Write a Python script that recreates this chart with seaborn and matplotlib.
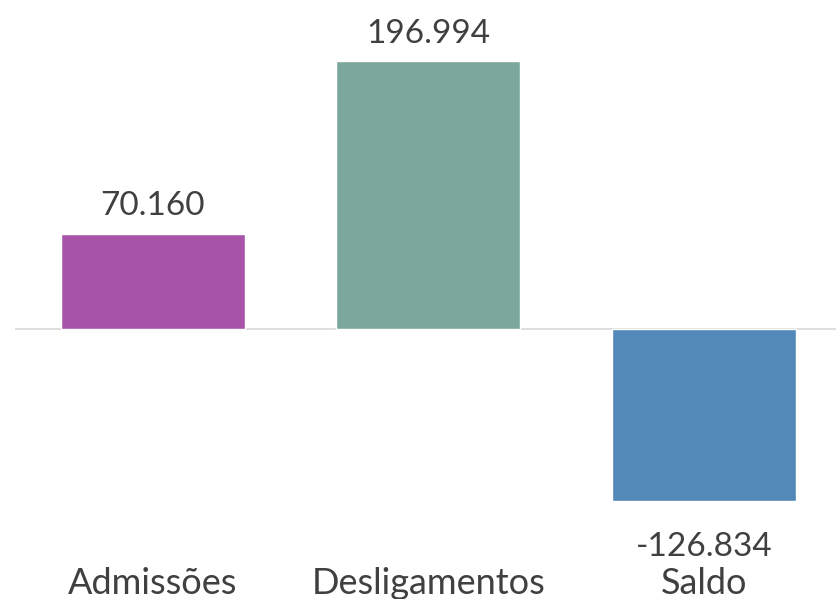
import matplotlib
matplotlib.use("Agg")
import matplotlib.pyplot as plt
import seaborn as sns
import pandas as pd

# data
categorias = ["Admissões", "Desligamentos", "Saldo"]
valores = [70160, 196994, -126834]
cores = ["#A855A9", "#7BA79D", "#5389B9"]

df = pd.DataFrame({"categoria": categorias, "valor": valores})

sns.set_style("white")
plt.rcParams["font.family"] = ["Lato", "DejaVu Sans"]

fig = plt.figure(figsize=(8.36, 5.99), dpi=100)
ax = fig.add_axes([15 / 836, 39 / 599, 821 / 836, 560 / 599])

sns.barplot(data=df, x="categoria", y="valor", hue="categoria",
            palette=cores, legend=False, width=0.667, saturation=1, ax=ax)

ax.set_xlim(-0.5, 2.48)
ax.set_ylim(-169850, 241900)
ax.axhline(0, color="#D9D9D9", lw=1.2, zorder=0)

for container in ax.containers:
    v = int(round(container.datavalues[0]))
    ax.bar_label(container, labels=[f"{v:,}".replace(",", ".")],
                 padding=9 if v >= 0 else 22, fontsize=24, color="#404040")

for s in ax.spines.values():
    s.set_visible(False)
ax.set_yticks([])
ax.set_xlabel("")
ax.set_ylabel("")
ax.tick_params(axis="x", length=0, pad=5, labelsize=26, labelcolor="#404040")

fig.savefig("out.png", dpi=100)
